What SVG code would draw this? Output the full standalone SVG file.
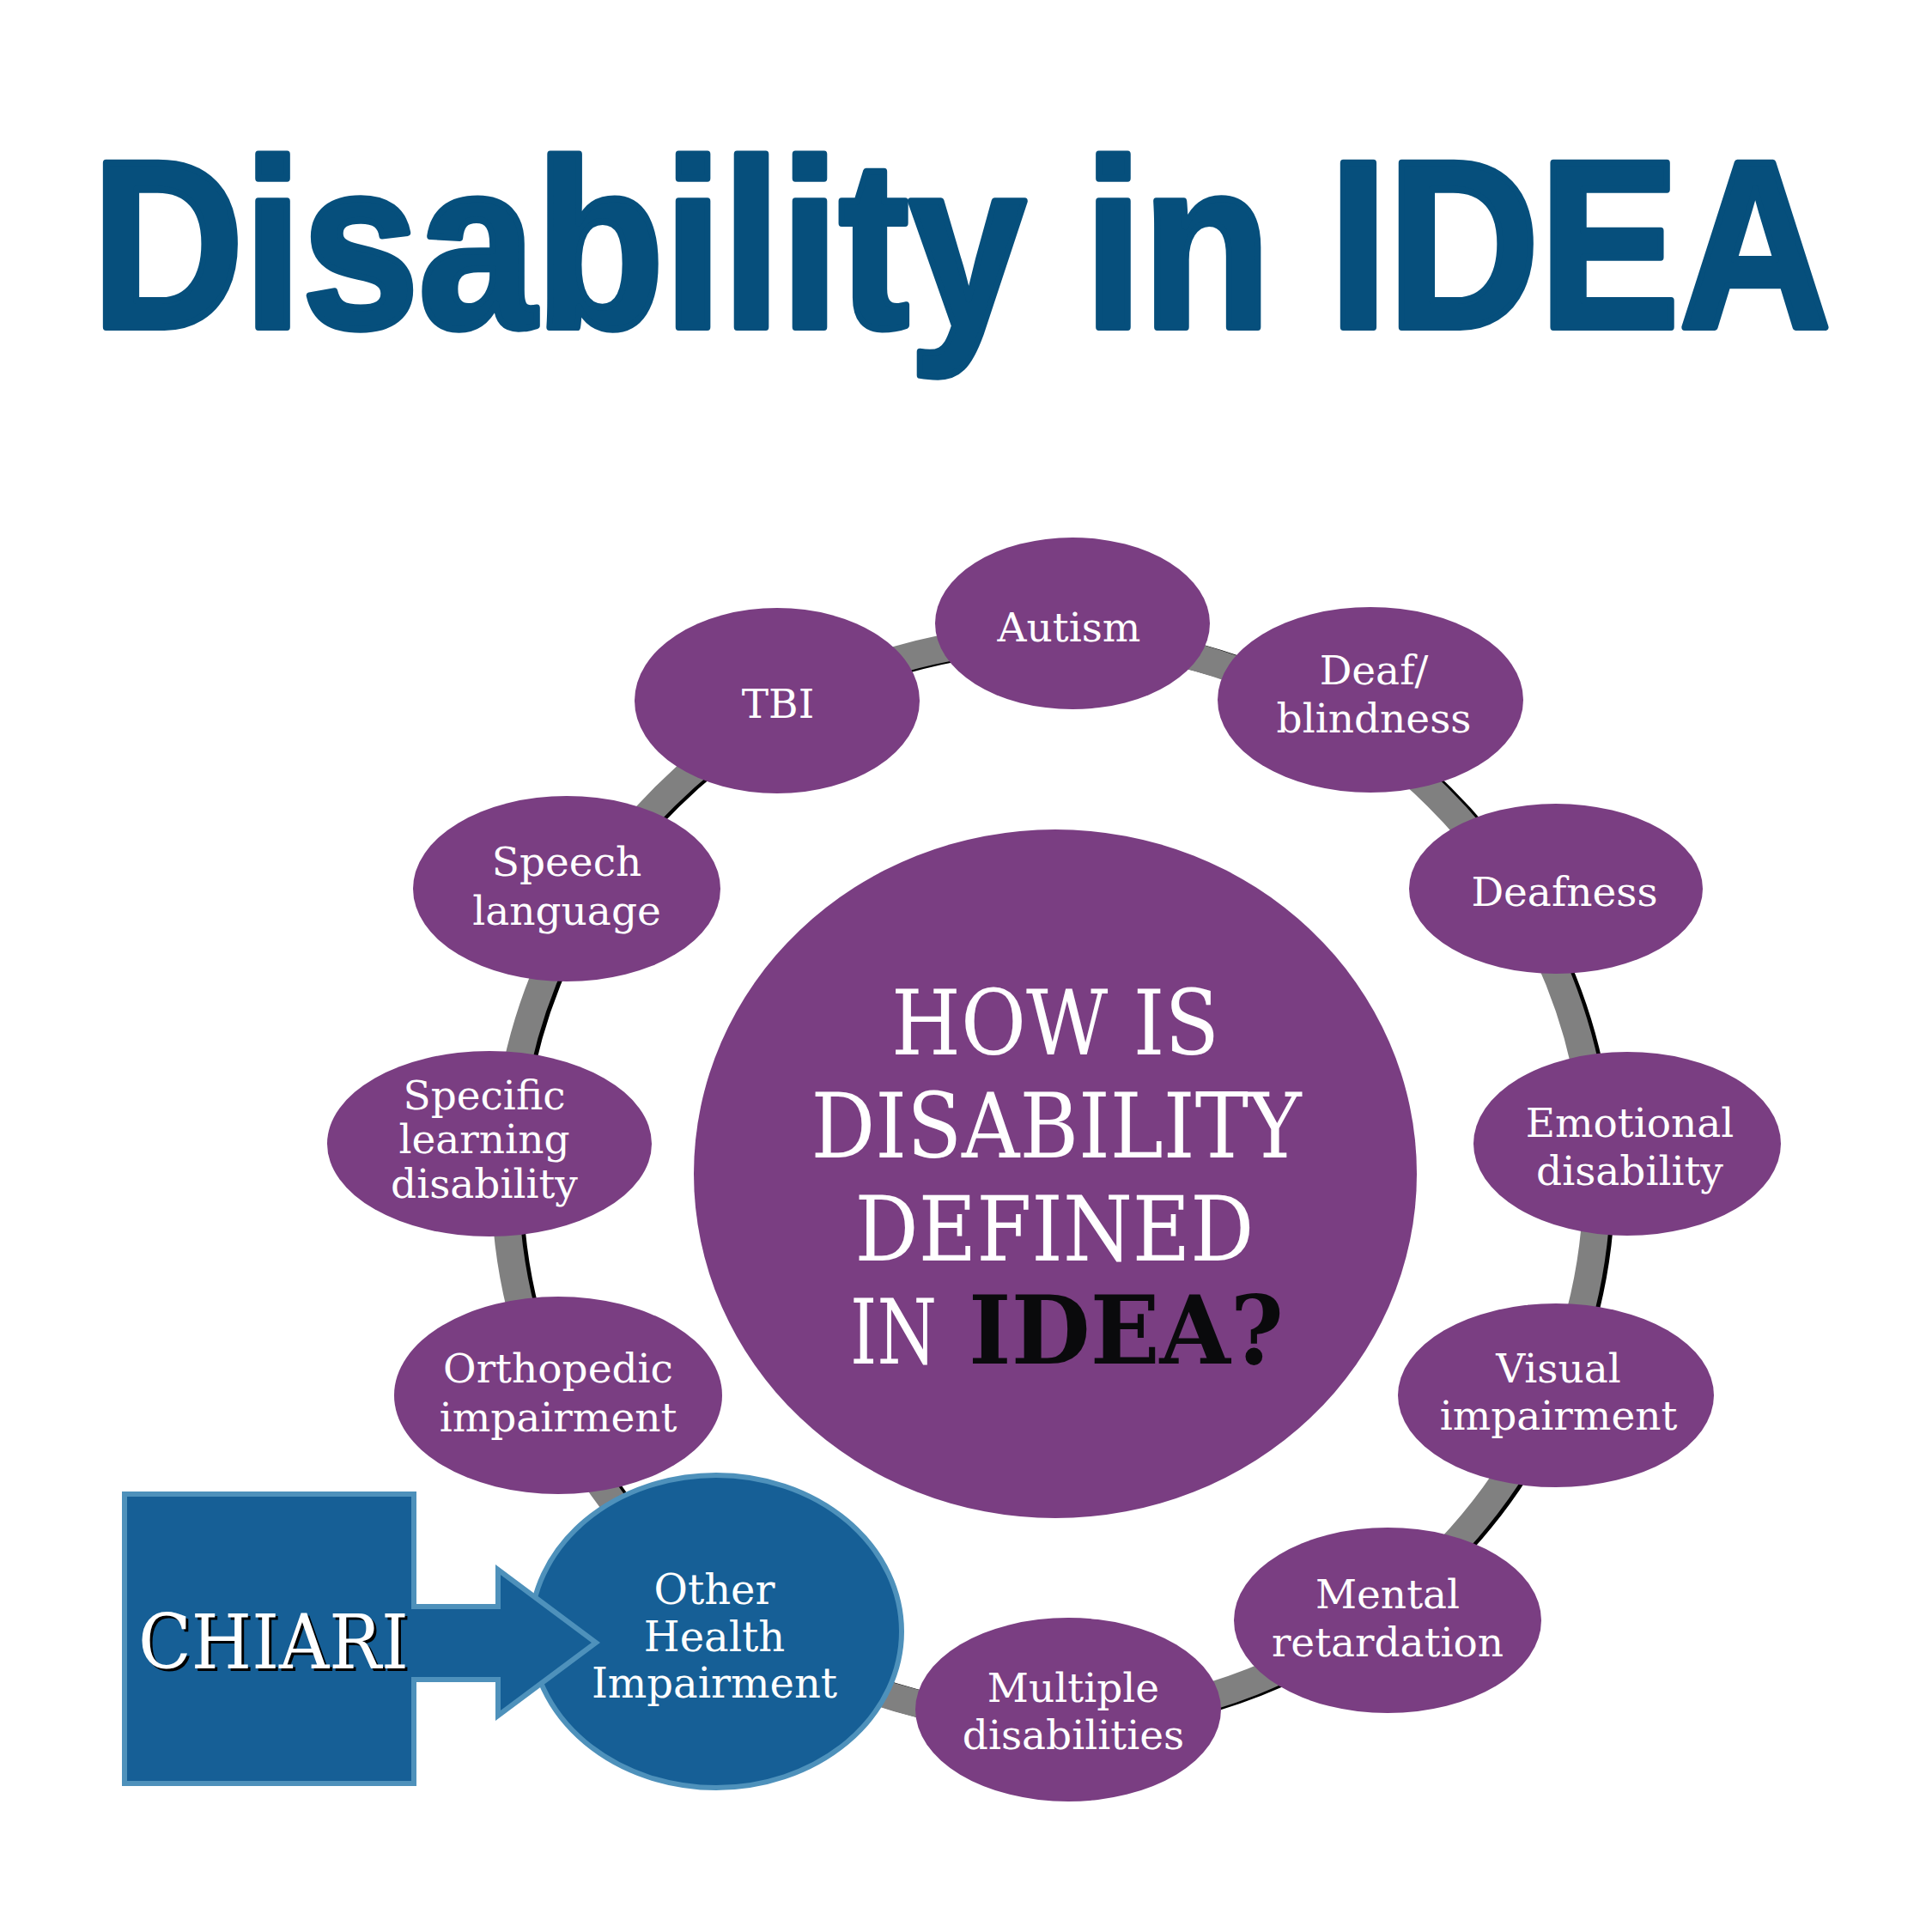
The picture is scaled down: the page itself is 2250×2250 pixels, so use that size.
<svg xmlns="http://www.w3.org/2000/svg" width="2250" height="2250" viewBox="0 0 2250 2250">
<style>
.node{fill:#7a3e82}
.lbl{font-family:"DejaVu Serif","Liberation Serif",serif;font-size:47px;fill:#ffffff;text-anchor:middle}
.ohi{font-size:48px}
.big{font-family:"DejaVu Serif","Liberation Serif",serif;font-size:104px;fill:#ffffff}
</style>
<rect x="0" y="0" width="2250" height="2250" fill="#ffffff"/>
<g transform="translate(107,381) scale(0.88,1)">
<text id="title" x="0" y="0" font-family="'Liberation Sans',Arial,sans-serif" font-weight="bold" font-size="278" fill="#064f7c" stroke="#064f7c" stroke-width="8" stroke-linejoin="round">Disability in IDEA</text>
</g>
<g id="connectors">
<ellipse cx="1229" cy="1374" rx="636" ry="630" fill="none" stroke="#000000" stroke-width="32"/>
<ellipse cx="1224" cy="1373" rx="636" ry="630" fill="none" stroke="#808080" stroke-width="32"/>
</g>
<g id="center">
<ellipse class="node" cx="1229" cy="1367" rx="421" ry="401"/>
<text class="big" x="1229" y="1228" text-anchor="middle" textLength="382" lengthAdjust="spacingAndGlyphs">HOW IS</text>
<text class="big" x="1230" y="1348" text-anchor="middle" textLength="571" lengthAdjust="spacingAndGlyphs">DISABILITY</text>
<text class="big" x="1228" y="1468" text-anchor="middle" textLength="465" lengthAdjust="spacingAndGlyphs">DEFINED</text>
<text class="big" x="990" y="1588" textLength="101" lengthAdjust="spacingAndGlyphs">IN</text>
<text x="1128" y="1588" textLength="367" lengthAdjust="spacingAndGlyphs" font-family="'DejaVu Serif','Liberation Serif',serif" font-weight="bold" font-size="110" fill="#0a0a0c">IDEA?</text>
</g>
<g id="autism"><ellipse class="node" cx="1249" cy="726" rx="160" ry="100"/><text class="lbl" x="1245" y="747">Autism</text></g>
<g id="tbi"><ellipse class="node" cx="905" cy="816" rx="166" ry="108"/><text class="lbl" x="906" y="836">TBI</text></g>
<g id="deafblindness"><ellipse class="node" cx="1596" cy="815" rx="178" ry="108"/><text class="lbl" x="1600" y="797">Deaf/</text><text class="lbl" x="1600" y="853">blindness</text></g>
<g id="deafness"><ellipse class="node" cx="1812" cy="1035" rx="171" ry="99"/><text class="lbl" x="1822" y="1055">Deafness</text></g>
<g id="emotional"><ellipse class="node" cx="1895" cy="1332" rx="179" ry="107"/><text class="lbl" x="1898" y="1324">Emotional</text><text class="lbl" x="1898" y="1380">disability</text></g>
<g id="visual"><ellipse class="node" cx="1812" cy="1625" rx="184" ry="107"/><text class="lbl" x="1815" y="1610">Visual</text><text class="lbl" x="1815" y="1665">impairment</text></g>
<g id="mental"><ellipse class="node" cx="1616" cy="1887" rx="179" ry="108"/><text class="lbl" x="1616" y="1873">Mental</text><text class="lbl" x="1616" y="1929">retardation</text></g>
<g id="multiple"><ellipse class="node" cx="1244" cy="1991" rx="178" ry="107"/><text class="lbl" x="1250" y="1982">Multiple</text><text class="lbl" x="1250" y="2037">disabilities</text></g>
<g id="orthopedic"><ellipse class="node" cx="650" cy="1625" rx="191" ry="115"/><text class="lbl" x="650" y="1610">Orthopedic</text><text class="lbl" x="650" y="1667">impairment</text></g>
<g id="specific"><ellipse class="node" cx="570" cy="1332" rx="189" ry="108"/><text class="lbl" x="564" y="1292">Specific</text><text class="lbl" x="564" y="1343">learning</text><text class="lbl" x="564" y="1395">disability</text></g>
<g id="speech"><ellipse class="node" cx="660" cy="1035" rx="179" ry="108"/><text class="lbl" x="660" y="1020">Speech</text><text class="lbl" x="660" y="1077">language</text></g>
<g id="ohi"><ellipse cx="834" cy="1900" rx="216" ry="182" fill="#165f96" stroke="#4e91bb" stroke-width="6"/><text class="lbl ohi" x="832" y="1868">Other</text><text class="lbl ohi" x="832" y="1923">Health</text><text class="lbl ohi" x="832" y="1977">Impairment</text></g>
<g id="chiari">
<path d="M145,1740 H482 V1871 H580 V1828 L694,1913 L580,1998 V1956 H482 V2077 H145 Z" fill="#165f96" stroke="#4e91bb" stroke-width="6"/>
<text x="164" y="1946" textLength="315" lengthAdjust="spacingAndGlyphs" font-family="'DejaVu Serif','Liberation Serif',serif" font-size="87" fill="#000000">CHIARI</text>
<text x="161" y="1943" textLength="315" lengthAdjust="spacingAndGlyphs" font-family="'DejaVu Serif','Liberation Serif',serif" font-size="87" fill="#ffffff">CHIARI</text>
</g>
</svg>
